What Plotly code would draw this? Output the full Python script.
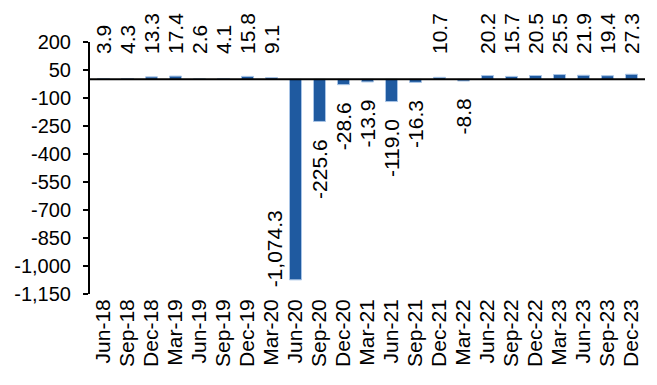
import plotly.graph_objects as go

categories = ["Jun-18", "Sep-18", "Dec-18", "Mar-19", "Jun-19", "Sep-19", "Dec-19", "Mar-20",
              "Jun-20", "Sep-20", "Dec-20", "Mar-21", "Jun-21", "Sep-21", "Dec-21", "Mar-22",
              "Jun-22", "Sep-22", "Dec-22", "Mar-23", "Jun-23", "Sep-23", "Dec-23"]
values = [3.9, 4.3, 13.3, 17.4, 2.6, 4.1, 15.8, 9.1, -1074.3, -225.6, -28.6, -13.9, -119.0,
          -16.3, 10.7, -8.8, 20.2, 15.7, 20.5, 25.5, 21.9, 19.4, 27.3]
label_texts = ["3.9", "4.3", "13.3", "17.4", "2.6", "4.1", "15.8", "9.1", "-1,074.3", "-225.6",
               "-28.6", "-13.9", "-119.0", "-16.3", "10.7", "-8.8", "20.2", "15.7", "20.5",
               "25.5", "21.9", "19.4", "27.3"]
tick_vals = [200, 50, -100, -250, -400, -550, -700, -850, -1000, -1150]
tick_text = ["200", "50", "-100", "-250", "-400", "-550", "-700", "-850", "-1,000", "-1,150"]

FONT = "Liberation Sans, Arial, sans-serif"

fig = go.Figure()
fig.add_trace(go.Bar(
    x=categories, y=values,
    marker=dict(color="#1f5aa0", line=dict(color="#a8c4e6", width=1)),
    width=0.5,
))

annotations = []
min_val = min(values)
for c, v, t in zip(categories, values, label_texts):
    if v >= 0:
        annotations.append(dict(x=c, y=1, yref="paper", xref="x", text=t, showarrow=False,
                                textangle=-90, yanchor="bottom", xanchor="center", yshift=-14,
                                font=dict(family=FONT, size=21, color="black")))
    elif v == min_val:
        annotations.append(dict(x=c, y=v, text=t, showarrow=False, textangle=-90,
                                yanchor="bottom", xanchor="right", xshift=-8, yshift=-10,
                                font=dict(family=FONT, size=21, color="black")))
    else:
        annotations.append(dict(x=c, y=v, text=t, showarrow=False, textangle=-90,
                                yanchor="top", xanchor="center", yshift=-16,
                                font=dict(family=FONT, size=21, color="black")))

fig.add_shape(type="line", xref="paper", x0=0, x1=1, yref="y", y0=0, y1=0,
              line=dict(color="black", width=2), layer="above")

fig.update_layout(
    width=657, height=385,
    margin=dict(l=90, r=12, t=42, b=91),
    paper_bgcolor="white", plot_bgcolor="white",
    showlegend=False,
    bargap=0.5,
    annotations=annotations,
    font=dict(family=FONT, size=20, color="black"),
    xaxis=dict(
        type="category", tickangle=-90, showgrid=False, showline=False, ticks="",
        tickmode="array", tickvals=categories, ticktext=categories,
        tickfont=dict(family=FONT, size=21, color="black"),
    ),
    yaxis=dict(
        range=[-1150, 200], tickvals=tick_vals, ticktext=tick_text, showgrid=False,
        showline=True, linecolor="black", linewidth=2, ticks="outside", ticklen=5,
        tickcolor="black", tickwidth=2, ticklabelstandoff=8,
        zeroline=False,
        tickfont=dict(family=FONT, size=20, color="black"),
    ),
)

fig.write_html("out.html")
